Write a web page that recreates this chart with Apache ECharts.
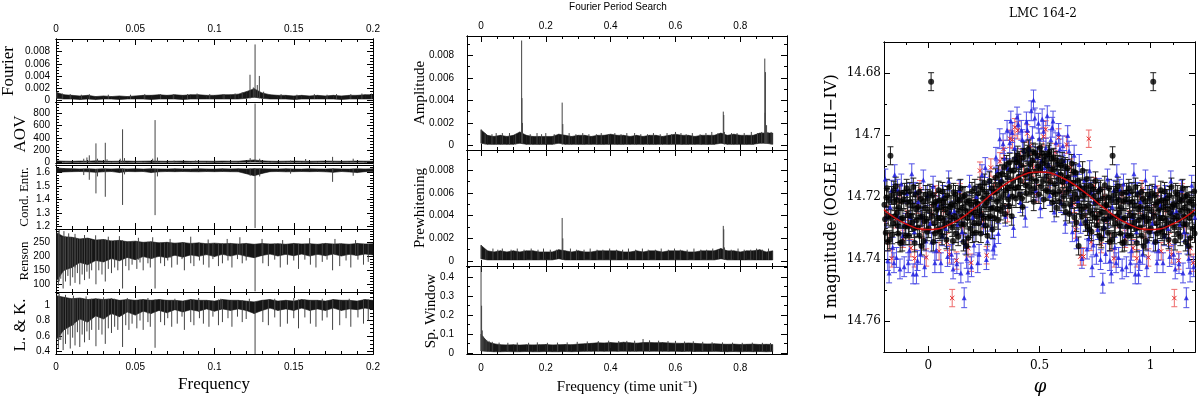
<!DOCTYPE html>
<html lang="en">
<head>
<meta charset="UTF-8" />
<title>LMC 164-2 periodograms</title>
<script src="https://cdn.jsdelivr.net/npm/echarts@6/dist/echarts.min.js"></script>
<style>
  * { margin: 0; padding: 0; }
  body { background: #fff; }
</style>
</head>
<body>
<div id="charts" style="width: 1200px; height: 396px"></div>
<script>
// ---------- left column: five period-search methods, bins every 0.005 ----------
var leftStep = 0.005;
var fourierHi = [0.0013,0.0009,0.0008,0.0007,0.0008,0.0006,0.0007,0.0006,0.0007,0.0006,
  0.0007,0.0008,0.0008,0.0009,0.0008,0.0009,0.0008,0.0009,0.0009,0.0008,
  0.0008,0.0009,0.0009,0.0010,0.0014,0.0019,0.0012,0.0009,0.0008,0.0008,
  0.0007,0.0008,0.0007,0.0008,0.0007,0.0008,0.0007,0.0008,0.0008,0.0009,0.0009];
var fourierLo = [0.0003,0.0002,0.0002,0.0001,0.0002,0.0001,0.0002,0.0002,0.0001,0.0002,
  0.0002,0.0002,0.0001,0.0002,0.0002,0.0002,0.0001,0.0002,0.0002,0.0002,
  0.0002,0.0002,0.0002,0.0002,0.0003,0.0005,0.0003,0.0002,0.0002,0.0002,
  0.0001,0.0002,0.0002,0.0002,0.0002,0.0002,0.0001,0.0002,0.0002,0.0002,0.0002];
var fourierPeaks = [[0.0005,0.0014],[0.004,0.0011],[0.009,0.0010],[0.016,0.0009],[0.021,0.0010],
  [0.033,0.0009],[0.047,0.0009],[0.056,0.0010],[0.066,0.0010],[0.074,0.0010],[0.083,0.0010],
  [0.089,0.0011],[0.097,0.0010],[0.106,0.0010],[0.113,0.0011],[0.1175,0.0013],[0.1224,0.0042],
  [0.1245,0.0021],[0.1256,0.0092],[0.127,0.0025],[0.1283,0.0040],[0.131,0.0014],[0.142,0.0010],
  [0.152,0.0009],[0.163,0.0010],[0.171,0.0009],[0.177,0.0010],[0.186,0.0010],[0.193,0.0011],[0.199,0.0011]];

var aovHi = [25,20,18,22,20,25,22,18,20,22, 18,20,22,20,18,20,22,18,20,20,
  18,22,20,20,30,40,25,20,18,20, 22,20,18,20,22,20,18,20,22,20, 20];
var aovLo = [2,1,0,1,2,0,1,2,1,0, 1,2,0,1,1,2,0,1,2,1, 0,1,2,1,3,5,2,1,0,1, 2,1,0,1,2,1,0,1,2,1, 1];
var aovPeaks = [[0.0175,60],[0.0195,80],[0.0210,115],[0.0252,310],[0.0262,60],[0.0311,320],
  [0.0322,50],[0.0405,60],[0.0420,540],[0.0432,70],[0.0610,60],[0.0625,690],[0.0640,80],
  [0.0745,30],[0.0880,30],[0.1005,25],[0.1225,70],[0.1256,960],[0.1285,60],[0.148,30],
  [0.1575,55],[0.1745,90],[0.1875,60]];

var condHi = [1.632,1.628,1.627,1.625,1.626,1.624,1.626,1.625,1.627,1.625,
  1.626,1.624,1.626,1.625,1.624,1.626,1.625,1.624,1.626,1.625,
  1.624,1.626,1.625,1.626,1.625,1.627,1.626,1.625,1.624,1.626,
  1.625,1.624,1.626,1.625,1.624,1.626,1.625,1.624,1.626,1.625,1.626];
var condLo = [1.598,1.603,1.605,1.606,1.604,1.600,1.604,1.606,1.598,1.606,
  1.605,1.606,1.598,1.604,1.606,1.605,1.606,1.605,1.604,1.606,
  1.605,1.606,1.605,1.604,1.590,1.575,1.592,1.605,1.606,1.604,
  1.605,1.606,1.605,1.606,1.604,1.600,1.606,1.603,1.598,1.605,1.606];
var condDips = [[0.0175,1.58],[0.0210,1.545],[0.0252,1.445],[0.0262,1.57],[0.0311,1.42],
  [0.0420,1.36],[0.0432,1.585],[0.0625,1.285],[0.0640,1.57],[0.1225,1.575],[0.1256,1.19],
  [0.1285,1.57],[0.148,1.59],[0.1745,1.53],[0.1875,1.575]];

var rensonHi = [285,270,268,262,265,258,260,255,257,252, 254,250,252,248,250,247,249,246,248,245,
  247,245,246,244,246,243,246,244,245,243, 246,244,245,243,246,244,245,243,246,244, 245];
var rensonLo = [110,150,160,178,170,185,180,192,184,196, 188,199,192,200,195,204,197,205,200,206,
  199,207,201,207,200,195,203,208,201,207, 202,208,201,207,202,208,201,207,203,208, 205];
var rensonSpikes = [[0.0015,95],[0.003,120],[0.0045,85],[0.006,110],[0.0075,130],[0.009,95],
  [0.0105,125],[0.012,105],[0.0135,140],[0.015,100],[0.0165,135],[0.018,115],[0.0195,145],
  [0.021,120],[0.0225,150],[0.0252,100],[0.027,150],[0.029,135],[0.0311,110],[0.033,155],
  [0.035,140],[0.037,160],[0.039,150],[0.042,85],[0.044,165],[0.046,150],[0.048,170],
  [0.051,155],[0.053,178],[0.055,150],[0.058,175],[0.0595,160],[0.0625,85],[0.066,175],
  [0.0685,165],[0.0705,185],[0.073,160],[0.0765,170],[0.0795,190],[0.081,150],[0.085,175],
  [0.087,165],[0.0905,185],[0.093,170],[0.0965,160],[0.099,190],[0.1025,165],[0.105,175],
  [0.1085,185],[0.111,160],[0.1145,190],[0.1175,175],[0.120,185],[0.1256,75],[0.1305,175],
  [0.134,165],[0.138,188],[0.1415,160],[0.146,170],[0.150,185],[0.153,155],[0.157,188],
  [0.1605,170],[0.164,160],[0.168,180],[0.171,188],[0.1745,150],[0.179,165],[0.183,185],
  [0.186,160],[0.1905,188],[0.194,170],[0.197,180],
  [0.002,295],[0.005,290],[0.008,282],[0.012,280],[0.018,276],[0.025,275],[0.033,270],
  [0.040,272],[0.052,266],[0.061,268],[0.072,262],[0.085,270],[0.096,260],[0.108,262],
  [0.116,268],[0.130,262],[0.143,258],[0.160,265],[0.176,262],[0.189,258]];

var lkHi = [1.12,1.10,1.08,1.09,1.07,1.08,1.07,1.08,1.06,1.07, 1.06,1.07,1.06,1.07,1.06,1.06,1.05,1.07,1.06,1.06,
  1.05,1.07,1.06,1.06,1.05,1.04,1.06,1.07,1.05,1.06, 1.05,1.07,1.06,1.06,1.05,1.07,1.06,1.06,1.05,1.07, 1.06];
var lkLo = [0.55,0.68,0.74,0.82,0.78,0.86,0.82,0.89,0.85,0.91, 0.87,0.92,0.89,0.93,0.90,0.94,0.91,0.94,0.92,0.95,
  0.92,0.95,0.93,0.95,0.93,0.89,0.93,0.96,0.93,0.95, 0.93,0.96,0.93,0.95,0.93,0.96,0.93,0.95,0.94,0.96, 0.94];
var lkSpikes = [[0.0015,0.45],[0.003,0.55],[0.0045,0.42],[0.006,0.50],[0.0075,0.62],[0.009,0.44],
  [0.0105,0.58],[0.012,0.48],[0.0135,0.65],[0.015,0.46],[0.0165,0.62],[0.018,0.52],[0.0195,0.66],
  [0.021,0.55],[0.0225,0.68],[0.0252,0.47],[0.027,0.68],[0.029,0.62],[0.0311,0.50],[0.033,0.70],
  [0.035,0.64],[0.037,0.72],[0.039,0.68],[0.042,0.46],[0.044,0.74],[0.046,0.68],[0.048,0.76],
  [0.051,0.70],[0.053,0.80],[0.055,0.68],[0.058,0.78],[0.0595,0.72],[0.0625,0.45],[0.066,0.78],
  [0.0685,0.74],[0.0705,0.83],[0.073,0.72],[0.0765,0.76],[0.0795,0.85],[0.081,0.68],[0.085,0.78],
  [0.087,0.74],[0.0905,0.83],[0.093,0.76],[0.0965,0.72],[0.099,0.85],[0.1025,0.74],[0.105,0.78],
  [0.1085,0.83],[0.111,0.72],[0.1145,0.85],[0.1175,0.78],[0.120,0.82],[0.1256,0.37],[0.1305,0.78],
  [0.134,0.74],[0.138,0.84],[0.1415,0.72],[0.146,0.76],[0.150,0.83],[0.153,0.70],[0.157,0.84],
  [0.1605,0.76],[0.164,0.72],[0.168,0.80],[0.171,0.84],[0.1745,0.68],[0.179,0.74],[0.183,0.83],
  [0.186,0.72],[0.1905,0.84],[0.194,0.76],[0.197,0.80],
  [0.002,1.15],[0.006,1.13],[0.011,1.12],[0.019,1.11],[0.030,1.10],[0.045,1.09],[0.058,1.09],
  [0.075,1.08],[0.090,1.09],[0.104,1.08],[0.122,1.08],[0.138,1.08],[0.150,1.09],[0.168,1.08],[0.185,1.08]];

// ---------- middle column: Fourier search, bins every 0.02 ----------
var midStep = 0.02;
var ampHi = [0.0014,0.0009,0.0008,0.0009,0.0008,0.0009,0.0012,0.0009,0.0008,0.0008,
  0.0008,0.0008,0.0010,0.0009,0.0008,0.0009,0.0009,0.0008,0.0009,0.0009,
  0.0010,0.0009,0.0009,0.0008,0.0009,0.0008,0.0009,0.0009,0.0008,0.0009,
  0.0010,0.0009,0.0009,0.0008,0.0009,0.0009,0.0009,0.0011,0.0009,0.0010,
  0.0009,0.0009,0.0009,0.0011,0.0011,0.0011];
var ampLo = [0.0002,0.0001,0.0001,0.0001,0.0001,0.0001,0.0002,0.0001,0.0001,0.0001,
  0.0001,0.0001,0.0002,0.0001,0.0001,0.0001,0.0001,0.0001,0.0001,0.0001,
  0.0001,0.0001,0.0001,0.0001,0.0001,0.0001,0.0001,0.0001,0.0001,0.0001,
  0.0001,0.0001,0.0001,0.0001,0.0001,0.0001,0.0001,0.0002,0.0001,0.0001,
  0.0001,0.0001,0.0001,0.0002,0.0002,0.0001];
var ampPeaks = [[0.001,0.0014],[0.066,0.0011],[0.1255,0.0093],[0.1265,0.0042],[0.128,0.0020],
  [0.2,0.0011],[0.2505,0.0038],[0.2525,0.0019],[0.45,0.0011],[0.6,0.0012],[0.7475,0.0030],
  [0.749,0.0027],[0.751,0.0012],[0.79,0.0011],[0.8755,0.0077],[0.8765,0.0029],[0.8775,0.0065],
  [0.881,0.0018],[0.885,0.0012],[0.895,0.0012],
  [0.013,0.0011],[0.034,0.0010],[0.047,0.0011],[0.088,0.0011],[0.107,0.0010],[0.152,0.0010],
  [0.173,0.0011],[0.187,0.0010],[0.226,0.0010],[0.272,0.0011],[0.293,0.0010],[0.314,0.0011],
  [0.333,0.0010],[0.356,0.0010],[0.371,0.0011],[0.394,0.0010],[0.413,0.0011],[0.432,0.0010],
  [0.474,0.0011],[0.493,0.0010],[0.514,0.0010],[0.532,0.0011],[0.553,0.0010],[0.574,0.0011],
  [0.588,0.0010],[0.617,0.0011],[0.633,0.0010],[0.652,0.0011],[0.676,0.0010],[0.694,0.0011],
  [0.712,0.0012],[0.731,0.0011],[0.773,0.0011],[0.812,0.0011],[0.834,0.0012],[0.853,0.0011],[0.866,0.0012]];

var prewHi = [0.0014,0.0009,0.0008,0.0009,0.0008,0.0009,0.0008,0.0009,0.0009,0.0008,
  0.0008,0.0008,0.0010,0.0009,0.0008,0.0009,0.0008,0.0008,0.0009,0.0009,
  0.0009,0.0009,0.0008,0.0008,0.0009,0.0008,0.0009,0.0009,0.0008,0.0009,
  0.0009,0.0009,0.0008,0.0008,0.0009,0.0009,0.0009,0.0011,0.0009,0.0009,
  0.0008,0.0009,0.0009,0.0010,0.0008,0.0009];
var prewLo = [0.0002,0.0001,0.0001,0.0001,0.0001,0.0001,0.0001,0.0001,0.0001,0.0001,
  0.0001,0.0001,0.0002,0.0001,0.0001,0.0001,0.0001,0.0001,0.0001,0.0001,
  0.0001,0.0001,0.0001,0.0001,0.0001,0.0001,0.0001,0.0001,0.0001,0.0001,
  0.0001,0.0001,0.0001,0.0001,0.0001,0.0001,0.0001,0.0002,0.0001,0.0001,
  0.0001,0.0001,0.0001,0.0001,0.0001,0.0001];
var prewPeaks = [[0.001,0.0014],[0.066,0.0011],[0.155,0.0011],[0.2505,0.0038],[0.2525,0.0020],
  [0.7475,0.0031],[0.749,0.0028],[0.751,0.0012],[0.85,0.0011],
  [0.015,0.0010],[0.037,0.0011],[0.052,0.0010],[0.093,0.0010],[0.112,0.0011],[0.133,0.0010],
  [0.176,0.0010],[0.193,0.0011],[0.214,0.0010],[0.233,0.0010],[0.276,0.0011],[0.295,0.0010],
  [0.318,0.0010],[0.337,0.0011],[0.358,0.0010],[0.376,0.0010],[0.397,0.0011],[0.418,0.0010],
  [0.437,0.0010],[0.455,0.0011],[0.477,0.0010],[0.498,0.0011],[0.516,0.0010],[0.538,0.0010],
  [0.556,0.0011],[0.578,0.0010],[0.597,0.0011],[0.615,0.0010],[0.636,0.0010],[0.657,0.0011],
  [0.678,0.0010],[0.696,0.0010],[0.715,0.0011],[0.733,0.0010],[0.772,0.0010],[0.793,0.0011],
  [0.812,0.0010],[0.832,0.0010],[0.868,0.0010],[0.887,0.0011]];

var winHi = [0.100,0.060,0.050,0.045,0.044,0.045,0.043,0.045,0.044,0.045,
  0.046,0.044,0.045,0.046,0.045,0.048,0.050,0.052,0.055,0.054,
  0.056,0.054,0.058,0.055,0.053,0.056,0.057,0.055,0.056,0.054,
  0.053,0.052,0.054,0.052,0.050,0.049,0.050,0.048,0.047,0.048,
  0.046,0.047,0.048,0.046,0.047,0.046];
var winLo = [0.012,0.010,0.008,0.008,0.009,0.008,0.008,0.009,0.008,0.008,
  0.009,0.008,0.008,0.009,0.008,0.009,0.010,0.010,0.011,0.010,
  0.011,0.010,0.011,0.010,0.010,0.011,0.010,0.011,0.010,0.010,
  0.010,0.009,0.010,0.009,0.009,0.009,0.010,0.009,0.008,0.009,
  0.008,0.009,0.008,0.009,0.008,0.009];
var winPeaks = [[0.0003,0.46],[0.002,0.25],[0.004,0.12],[0.006,0.09],[0.009,0.08],[0.013,0.075],
  [0.018,0.07],[0.025,0.065],[0.035,0.06],[0.45,0.065],[0.5,0.075],[0.52,0.068],[0.6,0.065],
  [0.056,0.056],[0.083,0.055],[0.112,0.056],[0.147,0.055],[0.174,0.057],[0.205,0.055],
  [0.236,0.056],[0.266,0.057],[0.297,0.060],[0.328,0.062],[0.362,0.064],[0.394,0.066],
  [0.425,0.064],[0.474,0.066],[0.548,0.066],[0.577,0.064],[0.628,0.062],[0.655,0.063],
  [0.684,0.060],[0.713,0.058],[0.745,0.057],[0.776,0.056],[0.806,0.055],[0.837,0.056],[0.868,0.055],[0.893,0.054]];

// ---------- right column: phased light curve ----------
var blackPts = [[0.004,14.7245],[0.012,14.6828],[0.018,14.7195],[0.022,14.7345],[0.027,14.7285],[0.033,14.7215],[0.041,14.7268],[0.046,14.7178],
  [0.052,14.7312],[0.058,14.7232],[0.063,14.7182],[0.069,14.7275],[0.074,14.7205],[0.081,14.7338],[0.088,14.7252],[0.094,14.7168],
  [0.102,14.7225],[0.107,14.7298],[0.113,14.7185],[0.119,14.7262],[0.124,14.7318],[0.131,14.7208],[0.137,14.7245],[0.144,14.7172],[0.148,14.7288],
  [0.153,14.7235],[0.158,14.7345],[0.164,14.7195],[0.171,14.7358],[0.176,14.7268],[0.183,14.7212],[0.189,14.7302],[0.196,14.7182],
  [0.203,14.7248],[0.209,14.7172],[0.214,14.7315],[0.221,14.7222],[0.227,14.7285],[0.233,14.7165],[0.239,14.7258],[0.246,14.7205],
  [0.252,14.7155],[0.257,14.7292],[0.263,14.7218],[0.269,14.7268],[0.275,14.7148],[0.281,14.7238],[0.288,14.7305],[0.294,14.7185],
  [0.302,14.7138],[0.308,14.7215],[0.313,14.7275],[0.319,14.7165],[0.326,14.7245],[0.332,14.7125],[0.338,14.7192],[0.345,14.7255],
  [0.352,14.7095],[0.357,14.7172],[0.363,14.7228],[0.369,14.7115],[0.375,14.7262],[0.381,14.7148],[0.388,14.7078],[0.394,14.7205],
  [0.402,14.7065],[0.406,14.7135],[0.412,14.7192],[0.418,14.7098],[0.424,14.7232],[0.431,14.7052],[0.437,14.7162],[0.444,14.7115],
  [0.451,14.7045],[0.456,14.7125],[0.462,14.7185],[0.468,14.7082],[0.474,14.7215],[0.481,14.7058],[0.487,14.7148],[0.494,14.7102],
  [0.502,14.7042],[0.507,14.7165],[0.513,14.7092],[0.519,14.7208],[0.526,14.7068],[0.532,14.7135],[0.538,14.7182],[0.545,14.7055],
  [0.552,14.7112],[0.558,14.7218],[0.563,14.7072],[0.569,14.7158],[0.576,14.7235],[0.582,14.7095],[0.588,14.7182],[0.594,14.7128],
  [0.602,14.7085],[0.607,14.7198],[0.613,14.7142],[0.619,14.7248],[0.626,14.7108],[0.632,14.7175],[0.638,14.7225],[0.645,14.7092],
  [0.652,14.7155],[0.657,14.7265],[0.663,14.7122],[0.669,14.7205],[0.676,14.7358],[0.681,14.7168],[0.688,14.7242],[0.694,14.7115],
  [0.702,14.7185],[0.707,14.7282],[0.713,14.7142],[0.719,14.7228],[0.725,14.7305],[0.731,14.7165],[0.738,14.7255],[0.744,14.7198],
  [0.752,14.7148],[0.757,14.7268],[0.763,14.7212],[0.769,14.7325],[0.775,14.7175],[0.781,14.7248],[0.788,14.7302],[0.794,14.7162],
  [0.802,14.7225],[0.808,14.7315],[0.813,14.7172],[0.819,14.7262],[0.826,14.7338],[0.829,14.7067],[0.834,14.7195],[0.841,14.7285],[0.847,14.7215],
  [0.853,14.7165],[0.858,14.7252],[0.864,14.7318],[0.871,14.7188],[0.876,14.7272],[0.882,14.7345],[0.889,14.7208],[0.895,14.7295],
  [0.902,14.7172],[0.907,14.7258],[0.913,14.7325],[0.919,14.7215],[0.926,14.7282],[0.932,14.7168],[0.938,14.7348],[0.944,14.7238],
  [0.952,14.7298],[0.957,14.7185],[0.963,14.7265],[0.969,14.7358],[0.976,14.7215],[0.982,14.7278],[0.988,14.7192],[0.994,14.7312],
  [0.001,14.7302],[0.007,14.7188],[0.015,14.7262],[0.024,14.7225],[0.030,14.7318],[0.037,14.7242],[0.044,14.7305],[0.049,14.7212],
  [0.055,14.7268],[0.061,14.7325],[0.066,14.7218],[0.072,14.7292],[0.078,14.7238],[0.085,14.7195],[0.091,14.7285],[0.097,14.7232],
  [0.104,14.7268],[0.110,14.7342],[0.116,14.7225],[0.122,14.7192],[0.128,14.7275],[0.134,14.7328],[0.140,14.7212],[0.151,14.7262],
  [0.156,14.7198],[0.161,14.7288],[0.167,14.7245],[0.173,14.7215],[0.179,14.7332],[0.186,14.7255],[0.192,14.7225],[0.198,14.7318],
  [0.206,14.7285],[0.211,14.7215],[0.218,14.7262],[0.224,14.7188],[0.230,14.7245],[0.236,14.7318],[0.242,14.7175],[0.249,14.7268],
  [0.255,14.7228],[0.260,14.7188],[0.266,14.7325],[0.272,14.7205],[0.278,14.7262],[0.285,14.7172],[0.291,14.7235],[0.297,14.7268],
  [0.305,14.7182],[0.311,14.7238],[0.316,14.7128],[0.322,14.7205],[0.329,14.7152],[0.335,14.7232],[0.341,14.7105],[0.348,14.7178],
  [0.355,14.7135],[0.360,14.7208],[0.366,14.7088],[0.372,14.7165],[0.378,14.7198],[0.384,14.7115],[0.391,14.7172],[0.397,14.7088],
  [0.404,14.7168],[0.409,14.7082],[0.415,14.7148],[0.421,14.7205],[0.427,14.7072],[0.434,14.7128],[0.440,14.7188],[0.447,14.7062],
  [0.453,14.7168],[0.459,14.7095],[0.465,14.7142],[0.471,14.7055],[0.477,14.7172],[0.484,14.7118],[0.490,14.7068],[0.497,14.7192],
  [0.504,14.7108],[0.510,14.7058],[0.516,14.7148],[0.522,14.7082],[0.529,14.7178],[0.535,14.7098],[0.541,14.7062],[0.548,14.7152],
  [0.555,14.7075],[0.561,14.7185],[0.566,14.7112],[0.572,14.7192],[0.579,14.7082],[0.585,14.7142],[0.591,14.7215],[0.597,14.7098],
  [0.604,14.7152],[0.610,14.7228],[0.616,14.7102],[0.622,14.7185],[0.629,14.7138],[0.635,14.7255],[0.641,14.7158],[0.648,14.7208],
  [0.654,14.7118],[0.660,14.7192],[0.666,14.7282],[0.672,14.7148],[0.679,14.7228],[0.685,14.7175],[0.691,14.7262],[0.697,14.7195],
  [0.704,14.7232],[0.710,14.7168],[0.716,14.7295],[0.722,14.7185],[0.728,14.7245],[0.734,14.7312],[0.741,14.7175],[0.747,14.7265],
  [0.754,14.7218],[0.760,14.7292],[0.766,14.7182],[0.772,14.7255],[0.778,14.7335],[0.784,14.7205],[0.791,14.7272],[0.797,14.7228],
  [0.805,14.7272],[0.811,14.7202],[0.816,14.7345],[0.822,14.7212],[0.831,14.7268],[0.837,14.7322],[0.844,14.7178],[0.850,14.7262],
  [0.856,14.7208],[0.861,14.7292],[0.867,14.7235],[0.873,14.7348],[0.879,14.7215],[0.885,14.7268],[0.892,14.7185],[0.898,14.7325],
  [0.905,14.7218],[0.910,14.7295],[0.916,14.7182],[0.922,14.7262],[0.929,14.7228],[0.935,14.7302],[0.941,14.7192],[0.947,14.7275],
  [0.954,14.7232],[0.960,14.7325],[0.966,14.7205],[0.972,14.7262],[0.979,14.7342],[0.985,14.7235],[0.991,14.7272],[0.997,14.7205]];
var bluePts = [[0.008,14.7285],[0.021,14.7165],[0.035,14.7372],[0.044,14.7228],
  [0.056,14.7412],[0.067,14.7195],[0.079,14.7302],[0.091,14.7148],
  [0.104,14.7385],[0.116,14.7245],[0.128,14.7415],[0.139,14.7178],
  [0.152,14.7312],[0.161,14.7525],[0.172,14.7398],[0.185,14.7162],[0.194,14.7425],
  [0.205,14.7355],[0.216,14.7198],[0.228,14.7385],[0.241,14.7128],[0.248,14.7288],
  [0.256,14.7105],[0.266,14.7342],[0.279,14.7198],[0.291,14.7368],
  [0.304,14.7072],[0.315,14.7318],[0.327,14.7145],[0.336,14.7028],[0.347,14.7262],
  [0.354,14.6985],[0.362,14.7195],[0.371,14.6955],[0.383,14.7298],[0.393,14.7075],
  [0.405,14.6965],[0.414,14.7218],[0.423,14.7015],[0.436,14.7265],[0.446,14.6985],
  [0.455,14.7045],[0.463,14.6922],[0.473,14.6887],[0.484,14.7178],[0.495,14.6962],
  [0.504,14.7235],[0.512,14.6948],[0.523,14.7105],[0.535,14.6938],[0.546,14.7195],
  [0.557,14.6975],[0.566,14.7248],[0.574,14.7025],[0.586,14.6995],[0.597,14.7218],
  [0.605,14.7035],[0.616,14.7285],[0.627,14.7002],[0.639,14.7165],[0.648,14.7312],
  [0.656,14.7065],[0.667,14.7335],[0.679,14.7095],[0.691,14.7398],
  [0.703,14.7145],[0.714,14.7368],[0.726,14.7115],[0.737,14.7425],[0.746,14.7215],
  [0.756,14.7385],[0.768,14.7172],[0.785,14.7478],[0.793,14.7298],
  [0.806,14.7142],[0.817,14.7405],[0.828,14.7232],[0.839,14.7362],[0.848,14.7128],
  [0.856,14.7395],[0.867,14.7268],[0.878,14.7158],[0.891,14.7425],
  [0.903,14.7188],[0.914,14.7372],[0.925,14.7125],[0.937,14.7312],[0.946,14.7448],
  [0.955,14.7215],[0.964,14.7385],[0.977,14.7145],[0.989,14.7342],
  [0.014,14.7345],[0.029,14.7412],[0.062,14.7325],[0.086,14.7392],[0.097,14.7248],[0.111,14.7432],
  [0.133,14.7288],[0.146,14.7445],[0.166,14.7352],[0.178,14.7442],[0.199,14.7265],[0.222,14.7412],
  [0.235,14.7255],[0.261,14.7402],[0.273,14.7148],[0.285,14.7298],[0.298,14.7355],[0.309,14.7115],
  [0.321,14.7012],[0.342,14.7075],[0.358,14.7108],[0.366,14.7025],[0.377,14.6992],[0.388,14.7042],
  [0.399,14.6942],[0.409,14.7098],[0.418,14.6985],[0.429,14.7052],[0.441,14.6958],[0.451,14.7115],
  [0.468,14.7005],[0.479,14.6945],[0.489,14.7072],[0.499,14.7012],[0.508,14.7085],[0.518,14.6988],
  [0.529,14.7042],[0.541,14.7095],[0.551,14.7015],[0.561,14.6955],[0.579,14.7125],[0.592,14.7045],
  [0.611,14.7082],[0.622,14.7148],[0.633,14.7052],[0.644,14.7225],[0.661,14.7128],[0.673,14.7212],
  [0.685,14.7285],[0.697,14.7178],[0.709,14.7275],[0.721,14.7335],[0.732,14.7185],[0.742,14.7355],
  [0.762,14.7305],[0.775,14.7402],[0.798,14.7382],[0.811,14.7265],[0.823,14.7445],[0.834,14.7178],
  [0.845,14.7412],[0.861,14.7175],[0.872,14.7432],[0.884,14.7325],[0.897,14.7285],[0.909,14.7412],
  [0.919,14.7265],[0.931,14.7448],[0.941,14.7185],[0.951,14.7405],[0.969,14.7262],[0.983,14.7425],[0.995,14.7195]];
var redPts = [[0.015,14.7255],[0.048,14.7375],[0.083,14.7345],[0.107,14.7526],[0.126,14.7405],
  [0.142,14.7185],[0.178,14.7365],[0.209,14.7235],[0.232,14.7115],[0.262,14.7388],[0.298,14.7165],
  [0.322,14.7085],[0.356,14.7252],[0.378,14.7015],[0.402,14.6985],[0.428,14.7125],[0.458,14.7035],
  [0.488,14.7188],[0.517,14.7005],[0.541,14.7142],[0.571,14.7055],[0.601,14.7185],[0.622,14.7032],
  [0.641,14.7105],[0.662,14.7305],[0.684,14.7392],[0.698,14.7392],[0.722,14.7012],[0.733,14.7345],
  [0.762,14.7278],[0.792,14.7198],[0.818,14.7345],[0.852,14.7272],[0.872,14.7192],[0.921,14.7365],
  [0.951,14.7225],[0.975,14.7305],
  [0.032,14.7192],[0.066,14.7245],[0.095,14.7385],[0.155,14.7295],[0.192,14.7412],[0.245,14.7275],
  [0.281,14.7105],[0.338,14.7045],[0.367,14.7012],[0.389,14.6975],[0.415,14.7072],[0.445,14.6995],
  [0.472,14.7105],[0.503,14.7065],[0.528,14.6982],[0.556,14.7128],[0.586,14.7008],[0.612,14.7158],
  [0.655,14.7222],[0.708,14.7262],[0.746,14.7165],[0.778,14.7352],[0.805,14.7255],[0.835,14.7398],
  [0.886,14.7335],[0.905,14.7248],[0.938,14.7398],[0.962,14.7175],[0.990,14.7395]];
var blackErr = 0.0029, blueErr = 0.0032, redErr = 0.0028;
var fitPhase = [-0.2,-0.1,0,0.1,0.2,0.3,0.4,0.5,0.6,0.7,0.8,0.9,1.0,1.1,1.2];
var fitMag = [14.7241,14.7287,14.7305,14.7287,14.7241,14.7183,14.7137,14.7119,14.7137,14.7183,14.7241,14.7287,14.7305,14.7287,14.7241];

// ---------- helpers ----------
function ticks(a, b, s) {
  var v = [];
  for (var t = a; t <= b + s * 1e-6; t += s) v.push(+t.toFixed(6));
  return v;
}
function bandData(step, lo, hi) {
  var out = [];
  for (var i = 0; i < lo.length - 1; i++) {
    out.push([i * step, lo[i], hi[i], (i + 1) * step, lo[i + 1], hi[i + 1]]);
  }
  return out;
}
function spikeData(step, pts, lo, hi) {
  return pts.map(function (p) {
    var i = Math.min(lo.length - 1, Math.round(p[0] / step));
    var base = p[1] < (lo[i] + hi[i]) / 2 ? hi[i] : lo[i];
    return [p[0], base, p[1]];
  });
}
function wrapPhase(pts, err) {
  var out = [];
  pts.forEach(function (p) {
    [-1, 0, 1].forEach(function (k) {
      var x = p[0] + k;
      if (x >= -0.2 && x <= 1.2) out.push([x, p[1], err]);
    });
  });
  return out;
}
function renderBand(params, api) {
  var pts = [api.coord([api.value(0), api.value(2)]), api.coord([api.value(3), api.value(5)]),
             api.coord([api.value(3), api.value(4)]), api.coord([api.value(0), api.value(1)])];
  return { type: 'polygon', shape: { points: pts }, style: { fill: '#161616', stroke: '#161616', lineWidth: 0.6 } };
}
function renderSpike(params, api) {
  var a = api.coord([api.value(0), api.value(1)]);
  var b = api.coord([api.value(0), api.value(2)]);
  return { type: 'line', shape: { x1: a[0], y1: a[1], x2: b[0], y2: b[1] }, style: { stroke: '#444', lineWidth: 1 } };
}
function errRenderer(color, cap) {
  return function (params, api) {
    var x = api.value(0), y = api.value(1), e = api.value(2);
    var a = api.coord([x, y - e]), b = api.coord([x, y + e]);
    var st = { stroke: color, lineWidth: 1 };
    return { type: 'group', children: [
      { type: 'line', shape: { x1: a[0], y1: a[1], x2: b[0], y2: b[1] }, style: st },
      { type: 'line', shape: { x1: a[0] - cap, y1: a[1], x2: a[0] + cap, y2: a[1] }, style: st },
      { type: 'line', shape: { x1: b[0] - cap, y1: b[1], x2: b[0] + cap, y2: b[1] }, style: st }
    ] };
  };
}
function renderCross(params, api) {
  var c = api.coord([api.value(0), api.value(1)]), r = 2.2;
  var st = { stroke: '#e52a2a', lineWidth: 1 };
  return { type: 'group', children: [
    { type: 'line', shape: { x1: c[0] - r, y1: c[1] - r, x2: c[0] + r, y2: c[1] + r }, style: st },
    { type: 'line', shape: { x1: c[0] - r, y1: c[1] + r, x2: c[0] + r, y2: c[1] - r }, style: st }
  ] };
}
function fmt(v) { return String(+(+v).toFixed(6)); }

// ---------- axes / grids ----------
var grids = [], xAxes = [], yAxes = [], series = [];
function axis(g, pos, min, max, vals, len, lab, inverse) {
  return {
    type: 'value', gridIndex: g, position: pos, min: min, max: max, inverse: !!inverse,
    axisLine: { show: true, onZero: false, lineStyle: { color: '#000', width: 1 } },
    axisTick: { show: true, inside: true, length: len, customValues: vals, lineStyle: { color: '#000', width: 1 } },
    axisLabel: lab ? Object.assign({ show: true, customValues: lab.vals, formatter: fmt, color: '#000' }, lab.style)
                   : { show: false },
    splitLine: { show: false }
  };
}
// box: [left, top, width, height]; xt/yt: [major, minor] tick lists
function panel(box, xr, yr, xt, yt, lab) {
  var g = grids.length;
  grids.push({ left: box[0], top: box[1], width: box[2], height: box[3] });
  var xi = xAxes.length, yi = yAxes.length;
  xAxes.push(axis(g, 'bottom', xr[0], xr[1], xt[0], 6, lab.bottom),
             axis(g, 'bottom', xr[0], xr[1], xt[1], 3, null),
             axis(g, 'top', xr[0], xr[1], xt[0], 6, lab.top),
             axis(g, 'top', xr[0], xr[1], xt[1], 3, null));
  yAxes.push(axis(g, 'left', yr[0], yr[1], yt[0], 6, lab.left, lab.inverse),
             axis(g, 'left', yr[0], yr[1], yt[1], 3, null, lab.inverse),
             axis(g, 'right', yr[0], yr[1], yt[0], 6, null, lab.inverse),
             axis(g, 'right', yr[0], yr[1], yt[1], 3, null, lab.inverse));
  return { x: xi, y: yi };
}
function addPeriodogram(ax, step, lo, hi, peaks) {
  series.push({ type: 'custom', xAxisIndex: ax.x, yAxisIndex: ax.y, clip: true, silent: true,
    renderItem: renderBand, data: bandData(step, lo, hi) });
  series.push({ type: 'custom', xAxisIndex: ax.x, yAxisIndex: ax.y, clip: true, silent: true,
    renderItem: renderSpike, data: spikeData(step, peaks, lo, hi) });
}

var sans = { fontFamily: 'Liberation Sans', fontSize: 10 };
var leftLab = function (vals) { return { vals: vals, style: Object.assign({ margin: 6 }, sans) }; };
var midLab = function (vals) { return { vals: vals, style: Object.assign({ margin: 13 }, sans) }; };

// left column
var lx = [0, 0.2], lxt = [ticks(0, 0.2, 0.05), ticks(0, 0.2, 0.01)];
var lxLab = { vals: ticks(0, 0.2, 0.05), style: Object.assign({ margin: 5 }, sans) };
var pF = panel([56, 39, 317, 63], lx, [-0.0003, 0.0101], lxt, [ticks(0, 0.01, 0.002), ticks(0, 0.01, 0.0005)],
  { left: leftLab(ticks(0, 0.008, 0.002)), top: lxLab });
var pA = panel([56, 102, 317, 61], lx, [-10, 985], lxt, [ticks(0, 800, 200), ticks(0, 950, 50)],
  { left: leftLab(ticks(0, 800, 200)) });
var pC = panel([56, 165, 317, 64], lx, [1.183, 1.654], lxt, [ticks(1.2, 1.6, 0.1), ticks(1.2, 1.64, 0.02)],
  { left: leftLab(ticks(1.2, 1.6, 0.1)) });
var pR = panel([56, 229, 317, 63], lx, [72.5, 297.5], lxt, [ticks(100, 250, 50), ticks(80, 290, 10)],
  { left: leftLab(ticks(100, 250, 50)) });
var pL = panel([56, 292, 317, 62], lx, [0.37, 1.167], lxt, [ticks(0.4, 1, 0.2), ticks(0.4, 1.15, 0.05)],
  { left: leftLab(ticks(0.4, 1, 0.2)), bottom: { vals: ticks(0, 0.2, 0.05), style: Object.assign({ margin: 8 }, sans) } });
addPeriodogram(pF, leftStep, fourierLo, fourierHi, fourierPeaks);
addPeriodogram(pA, leftStep, aovLo, aovHi, aovPeaks);
addPeriodogram(pC, leftStep, condLo, condHi, condDips);
addPeriodogram(pR, leftStep, rensonLo, rensonHi, rensonSpikes);
addPeriodogram(pL, leftStep, lkLo, lkHi, lkSpikes);

// middle column
var mx = [-0.043, 0.944], mxt = [ticks(0, 0.8, 0.2), ticks(0, 0.9, 0.05)];
var pAmp = panel([467, 36, 320, 114], mx, [-0.0004, 0.0097], mxt, [ticks(0, 0.008, 0.002), ticks(0, 0.009, 0.001)],
  { left: midLab(ticks(0, 0.008, 0.002)), top: { vals: ticks(0, 0.8, 0.2), style: Object.assign({ margin: 5 }, sans) } });
var pPre = panel([467, 150, 320, 116], mx, [-0.00044, 0.0098], mxt, [ticks(0, 0.008, 0.002), ticks(0, 0.009, 0.001)],
  { left: midLab(ticks(0, 0.008, 0.002)) });
var pWin = panel([467, 266, 320, 88], mx, [-0.004, 0.459], mxt, [ticks(0, 0.4, 0.1), ticks(0, 0.45, 0.05)],
  { left: midLab(ticks(0, 0.4, 0.1)), bottom: { vals: ticks(0, 0.8, 0.2), style: Object.assign({ margin: 9 }, sans) } });
addPeriodogram(pAmp, midStep, ampLo, ampHi, ampPeaks);
addPeriodogram(pPre, midStep, prewLo, prewHi, prewPeaks);
addPeriodogram(pWin, midStep, winLo, winHi, winPeaks);

// right column
var serif = { fontFamily: 'DejaVu Serif', fontSize: 12 };
var pPh = panel([884, 42, 311, 310], [-0.2, 1.2], [14.67, 14.77],
  [ticks(0, 1, 0.5), ticks(-0.2, 1.2, 0.1)], [ticks(14.68, 14.76, 0.02), ticks(14.67, 14.77, 0.01)],
  { inverse: true,
    left: { vals: ticks(14.68, 14.76, 0.02), style: Object.assign({ margin: 3 }, serif) },
    bottom: { vals: ticks(0, 1, 0.5), style: Object.assign({ margin: 8 }, serif) } });
var ph = { xAxisIndex: pPh.x, yAxisIndex: pPh.y, clip: true, silent: true };
series.push(Object.assign({ type: 'custom', renderItem: errRenderer('#ee6a6a', 3), data: wrapPhase(redPts, redErr) }, ph));
series.push(Object.assign({ type: 'custom', renderItem: errRenderer('#5050e6', 3), data: wrapPhase(bluePts, blueErr) }, ph));
series.push(Object.assign({ type: 'custom', renderItem: renderCross, data: wrapPhase(redPts, redErr) }, ph));
series.push(Object.assign({ type: 'scatter', symbol: 'triangle', symbolSize: 5, itemStyle: { color: '#1a1ae0' },
  data: wrapPhase(bluePts, blueErr) }, ph));
series.push(Object.assign({ type: 'custom', renderItem: errRenderer('#1e1e1e', 3), data: wrapPhase(blackPts, blackErr) }, ph));
series.push(Object.assign({ type: 'scatter', symbol: 'circle', symbolSize: 6, itemStyle: { color: '#000' },
  data: wrapPhase(blackPts, blackErr) }, ph));
series.push(Object.assign({ type: 'line', smooth: true, showSymbol: false, lineStyle: { color: '#d01010', width: 1.5 },
  data: fitPhase.map(function (p, i) { return [p, fitMag[i]]; }) }, ph));

// ---------- text ----------
function txt(x, y, s, font, rot) {
  return { type: 'text', x: x, y: y, rotation: rot || 0, z: 100,
    style: { text: s, font: font, fill: '#000', align: 'center', verticalAlign: 'middle',
             textAlign: 'center', textVerticalAlign: 'middle' } };
}
var up = Math.PI / 2;
var texts = [
  txt(9, 71, 'Fourier', '17px "Liberation Serif"', up),
  txt(21, 134, 'AOV', '17px "Liberation Serif"', up),
  txt(25, 197, 'Cond. Entr.', '13px "Liberation Serif"', up),
  txt(25, 261, 'Renson', '13px "Liberation Serif"', up),
  txt(21, 325, 'L. & K.', '17px "Liberation Serif"', up),
  txt(214, 385, 'Frequency', '17px "Liberation Serif"'),
  txt(618, 7, 'Fourier Period Search', '10px "Liberation Sans"'),
  txt(420, 93, 'Amplitude', '15px "Liberation Serif"', up),
  txt(420, 208, 'Prewhitening', '15px "Liberation Serif"', up),
  txt(431, 311, 'Sp. Window', '15px "Liberation Serif"', up),
  txt(627, 387, 'Frequency (time unit\u207B\u00B9)', '15px "Liberation Serif"'),
  txt(1043, 14, 'LMC 164-2', '12px "DejaVu Serif"'),
  txt(832, 197, 'I magnitude (OGLE II\u2212III\u2212IV)', '16px "DejaVu Serif"', up),
  txt(1040, 387, '\u03C6', 'italic 18px "DejaVu Serif"')
];

var myEcharts = echarts.init(document.getElementById('charts'));
myEcharts.setOption({
  animation: false,
  backgroundColor: '#fff',
  grid: grids,
  xAxis: xAxes,
  yAxis: yAxes,
  series: series,
  graphic: texts
});
</script>
</body>
</html>
